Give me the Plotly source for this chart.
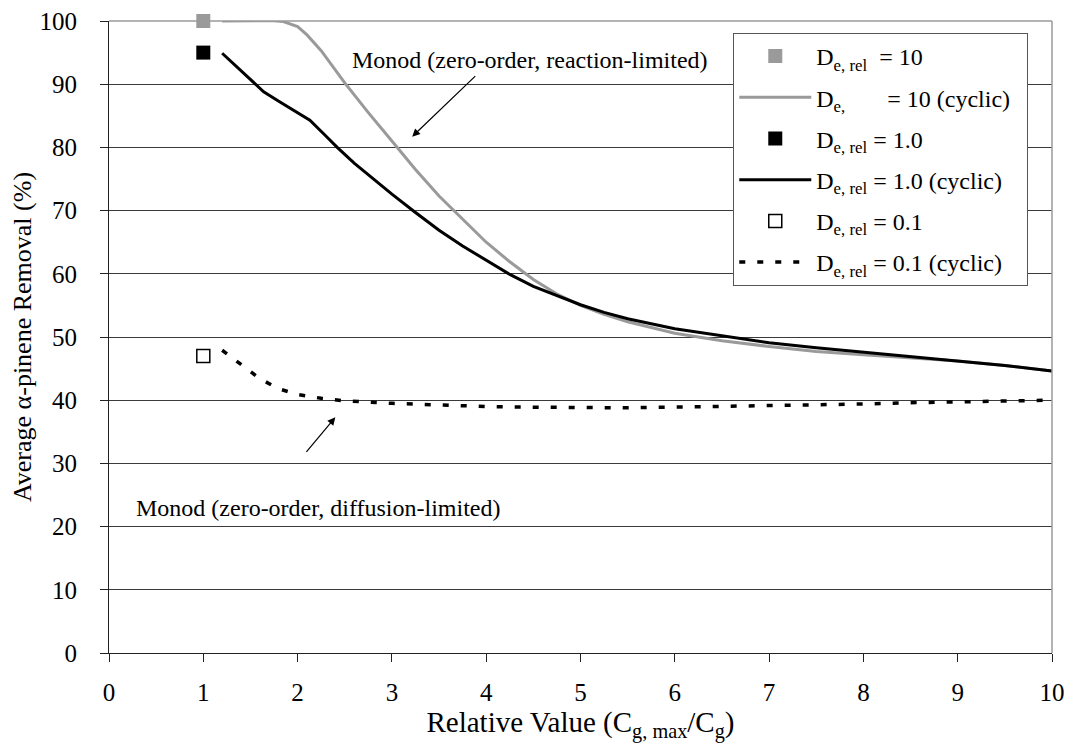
import plotly.graph_objects as go

# ---- data ----
pt_x = [1]
pt_10 = [100]
pt_1 = [95]
pt_01 = [47]

g_x = [1.2, 1.4, 1.6, 1.75, 1.85, 2.0, 2.1, 2.25, 2.5, 2.75, 3.0, 3.25, 3.5, 3.75, 4.0,
       4.25, 4.5, 4.75, 5.0, 5.25, 5.5, 6.0, 6.5, 7.0, 7.5, 8.0, 8.5, 9.0, 9.5, 10]
g_y = [100, 100, 99.95, 100.05, 99.9, 99.1, 97.8, 95.3, 90.2, 85.5, 81, 76.5, 72.3, 68.6, 65,
       61.9, 59.1, 56.8, 55, 53.6, 52.4, 50.6, 49.4, 48.5, 47.7, 47.2, 46.7, 46.2, 45.5, 44.6]

b_x = [1.2, 1.4, 1.64, 1.8, 2.0, 2.13, 2.3, 2.42, 2.6, 2.8, 3.0, 3.25, 3.5, 3.75, 4.0, 4.25,
       4.5, 4.75, 5.0, 5.25, 5.5, 6.0, 6.5, 7.0, 7.5, 8.0, 8.5, 9.0, 9.5, 10]
b_y = [94.9, 92.1, 88.8, 87.3, 85.5, 84.3, 81.8, 80.0, 77.5, 75, 72.6, 69.7, 66.9, 64.4, 62.1, 59.9,
       58, 56.5, 55.1, 53.9, 52.9, 51.3, 50.2, 49.1, 48.3, 47.6, 46.9, 46.3, 45.5, 44.6]

d_x = [1.2, 1.4, 1.6, 1.8, 2.0, 2.25, 2.5, 3.0, 3.5, 4.0, 4.5, 5.0, 5.5, 6.0, 6.5, 7.0,
       7.5, 8.0, 8.5, 9.0, 9.5, 10]
d_y = [47.9, 45.6, 43.4, 41.8, 40.9, 40.3, 39.9, 39.5, 39.2, 39.0, 38.9, 38.8, 38.8, 38.9,
       39.0, 39.1, 39.2, 39.4, 39.6, 39.7, 39.9, 40.0]

names = [
    "D<sub>e, rel</sub>  = 10",
    "D<sub>e,</sub>\u00a0\u00a0\u00a0\u00a0\u00a0\u00a0 = 10 (cyclic)\u00a0\u00a0",
    "D<sub>e, rel</sub> = 1.0",
    "D<sub>e, rel</sub> = 1.0 (cyclic)\u00a0\u00a0",
    "D<sub>e, rel</sub> = 0.1",
    "D<sub>e, rel</sub> = 0.1 (cyclic)\u00a0\u00a0",
]

x_ticks = list(range(0, 11))
y_ticks = list(range(0, 101, 10))

FONT = "'Liberation Serif', Tinos, 'Times New Roman', 'DejaVu Serif', serif"
GRAY = "#9a9a9a"

fig = go.Figure()
fig.add_trace(go.Scatter(x=pt_x, y=pt_10, mode="markers", name=names[0], legendgroup="a",
                         cliponaxis=False,
                         marker=dict(symbol="square", size=14, color=GRAY, line=dict(width=0))))
fig.add_trace(go.Scatter(x=g_x, y=g_y, mode="lines", name=names[1], legendgroup="b",
                         line=dict(color=GRAY, width=3)))
fig.add_trace(go.Scatter(x=pt_x, y=pt_1, mode="markers", name=names[2], legendgroup="c",
                         cliponaxis=False,
                         marker=dict(symbol="square", size=14, color="black", line=dict(width=0))))
fig.add_trace(go.Scatter(x=b_x, y=b_y, mode="lines", name=names[3], legendgroup="d",
                         line=dict(color="black", width=3)))
fig.add_trace(go.Scatter(x=pt_x, y=pt_01, mode="markers", name=names[4], legendgroup="e",
                         cliponaxis=False,
                         marker=dict(symbol="square", size=13, color="white",
                                     line=dict(width=1.5, color="black"))))
fig.add_trace(go.Scatter(x=d_x, y=d_y, mode="lines", name=names[5], legendgroup="f",
                         line=dict(color="black", width=3.5, dash="6px,12px")))

annotations = [
    dict(x=2.56, y=93.8, xref="x", yref="y", text="Monod (zero-order, reaction-limited)",
         showarrow=False, xanchor="left", yanchor="middle", font=dict(family=FONT, size=24)),
    dict(x=0.26, y=22.9, xref="x", yref="y", text="Monod (zero-order, diffusion-limited)",
         showarrow=False, xanchor="left", yanchor="middle", font=dict(family=FONT, size=24)),
    dict(x=3.215, y=81.7, ax=3.90, ay=91.5, xref="x", yref="y", axref="x", ayref="y",
         text="", showarrow=True, arrowhead=2, arrowsize=1.3, arrowwidth=1.2, arrowcolor="black"),
    dict(x=2.40, y=37.3, ax=2.08, ay=31.6, xref="x", yref="y", axref="x", ayref="y",
         text="", showarrow=True, arrowhead=2, arrowsize=1.3, arrowwidth=1.2, arrowcolor="black"),
]

fig.update_layout(
    width=1068, height=750,
    margin=dict(l=109, r=16, t=21, b=97, autoexpand=False),
    paper_bgcolor="white", plot_bgcolor="white",
    font=dict(family=FONT, size=24, color="black"),
    showlegend=True,
    legend=dict(x=0.662, y=0.981, xanchor="left", yanchor="top",
                bgcolor="white", bordercolor="#555555", borderwidth=1,
                font=dict(family=FONT, size=24), tracegroupgap=7, itemwidth=72),
    annotations=annotations,
    shapes=[
        dict(type="line", xref="paper", yref="paper", x0=0, x1=1, y0=1, y1=1,
             line=dict(color=GRAY, width=1.5)),
        dict(type="line", xref="paper", yref="paper", x0=1, x1=1, y0=0, y1=1,
             line=dict(color=GRAY, width=1.5)),
    ],
)

fig.update_xaxes(range=[0, 10], tickvals=x_ticks, showgrid=False, zeroline=False,
                 showline=True, linecolor="#222222", linewidth=1.2, automargin=False,
                 ticks="outside", ticklen=8, tickcolor="#222222",
                 tickfont=dict(family=FONT, size=25), ticklabelstandoff=9,
                 title=dict(text="Relative Value (C<sub>g, max</sub>/C<sub>g</sub>)",
                            font=dict(family=FONT, size=29), standoff=0))
fig.update_yaxes(range=[0, 100], tickvals=y_ticks, showgrid=True, gridcolor="#3a3a3a",
                 gridwidth=1, zeroline=False, automargin=False,
                 showline=True, linecolor="#222222", linewidth=1.2,
                 ticks="outside", ticklen=8, tickcolor="#222222",
                 tickfont=dict(family=FONT, size=25), ticklabelstandoff=18,
                 title=dict(text="Average α-pinene Removal (%)",
                            font=dict(family=FONT, size=26), standoff=0))

fig.write_html("out.html", config={"displayModeBar": False},
               post_script="document.body.style.margin='0px';")
